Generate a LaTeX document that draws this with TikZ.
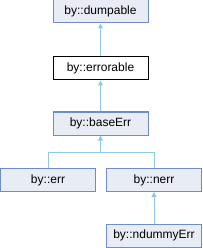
\documentclass[tikz,border=0pt]{standalone}
\usepackage{fontspec}
\setmainfont{Liberation Sans}
\usetikzlibrary{arrows.meta}
\definecolor{boxfill}{HTML}{E8ECF5}
\definecolor{boxline}{HTML}{6D8CC8}
\definecolor{edgec}{HTML}{8FC8E8}
\tikzset{
  cls/.style={draw=boxline, fill=boxfill, line width=1pt, minimum width=95pt, minimum height=23pt, inner sep=0pt, font=\fontsize{12}{14}\selectfont},
  cur/.style={cls, draw=black, fill=white},
  inh/.style={draw=edgec, line width=1pt},
  tip/.style={-{Triangle[width=5pt,length=5pt]}}
}
\begin{document}
\begin{tikzpicture}[x=1pt,y=1pt]
\useasboundingbox (0,0) rectangle (202,-248);
\node[cls] (dump) at (100.5,-11.5) {by::dumpable};
\node[cur] (errb) at (100.5,-68.5) {by::errorable};
\node[cls] (base) at (100.5,-123.5) {by::baseErr};
\node[cls] (err) at (48,-180) {by::err};
\node[cls] (nerr) at (154,-180) {by::nerr};
\node[cls] (nd) at (154,-235.5) {by::ndummyErr};
\coordinate (j) at (100.5,-152.5);
\draw[inh,tip] (errb.north) -- (dump.south);
\draw[inh,tip] (base.north) -- (errb.south);
\draw[inh,tip] (j) -- (base.south);
\draw[inh] (j) -| (err.north);
\draw[inh] (j) -| (nerr.north);
\draw[inh,tip] (nd.north) -- (nerr.south);
\end{tikzpicture}
\end{document}
